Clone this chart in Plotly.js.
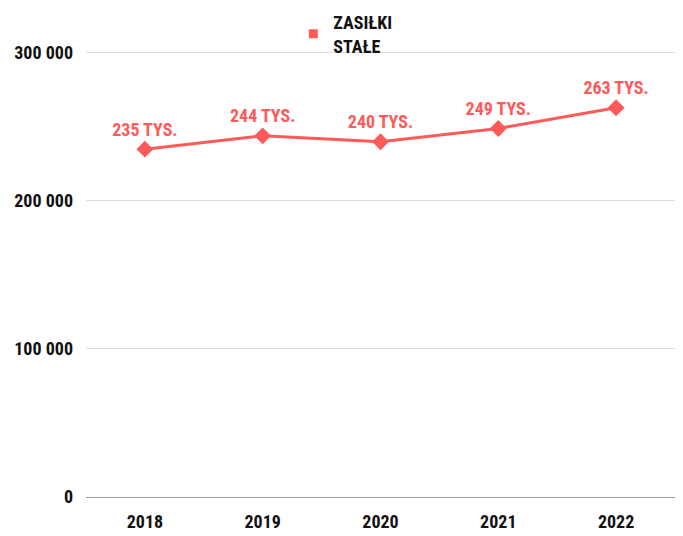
<!DOCTYPE html>
<html>
<head>
<meta charset="utf-8">
<script src="https://cdn.plot.ly/plotly-3.0.1.min.js"></script>
<style>
html,body{margin:0;padding:0;background:#fff}
#chart{width:683px;height:536px}
</style>
</head>
<body>
<div id="chart"></div>
<script>
const years = ['2018', '2019', '2020', '2021', '2022'];
const values = [235000, 244000, 240000, 249000, 263000];
const labels = ['235 TYS.', '244 TYS.', '240 TYS.', '249 TYS.', '263 TYS.'];
const seriesName = 'ZASIŁKI<br>STAŁE';
const yTicks = [0, 100000, 200000, 300000];
const yTickText = ['0', '100 000', '200 000', '300 000'];

const FONT = 'Roboto Condensed, Liberation Sans Narrow, Roboto, sans-serif';
const RED = '#ff5a5a';
const FS = 18;

const traces = [
  {
    type: 'scatter',
    mode: 'lines+markers+text',
    x: years,
    y: values,
    text: labels,
    textposition: 'top center',
    textfont: {family: FONT, size: FS, color: RED, weight: 700},
    line: {color: RED, width: 3},
    marker: {symbol: 'diamond', size: 13, color: RED},
    showlegend: false,
    hoverinfo: 'x+y'
  },
  {
    type: 'scatter',
    mode: 'markers',
    x: [null],
    y: [null],
    name: seriesName,
    marker: {symbol: 'square', size: 9, color: RED},
    showlegend: true
  }
];

const layout = {
  width: 683,
  height: 536,
  margin: {l: 86, r: 8, t: 50, b: 39, autoexpand: false},
  paper_bgcolor: '#fff',
  plot_bgcolor: '#fff',
  font: {family: FONT, size: FS, color: '#111', weight: 700},
  showlegend: true,
  legend: {
    orientation: 'v',
    x: 0.352, xanchor: 'left',
    y: 1.103, yanchor: 'top',
    font: {family: FONT, size: FS, color: '#111', weight: 700},
    bgcolor: 'rgba(0,0,0,0)',
    itemwidth: 30
  },
  xaxis: {
    type: 'category',
    range: [-0.5, 4.5],
    showgrid: false,
    zeroline: false,
    showline: false,
    ticks: '',
    ticklabelstandoff: 12,
    tickfont: {family: FONT, size: FS, color: '#111', weight: 700},
    fixedrange: true
  },
  yaxis: {
    range: [0, 302000],
    tickvals: yTicks,
    ticktext: yTickText,
    showgrid: true,
    gridcolor: '#dddddd',
    gridwidth: 1,
    zeroline: true,
    zerolinecolor: '#9a9a9a',
    zerolinewidth: 1,
    showline: false,
    ticks: '',
    ticklabelstandoff: 12,
    tickfont: {family: FONT, size: FS, color: '#111', weight: 700},
    fixedrange: true
  }
};

Plotly.newPlot('chart', traces, layout, {displayModeBar: false, staticPlot: true});
</script>
</body>
</html>
